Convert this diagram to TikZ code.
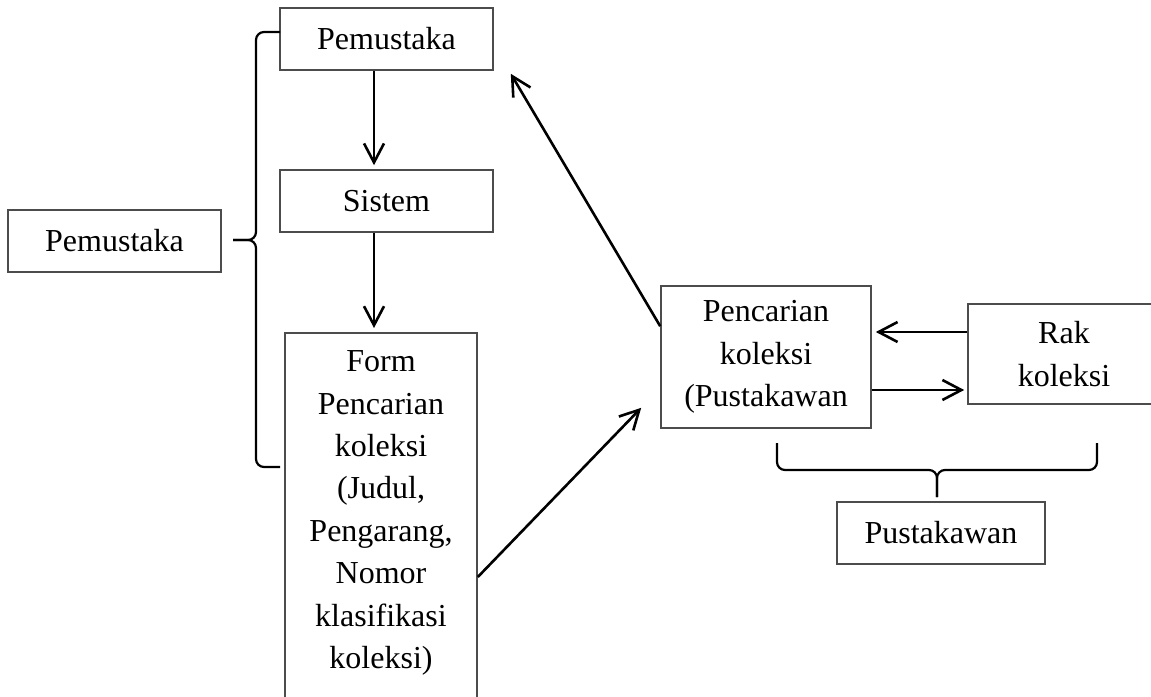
\documentclass[tikz,border=0pt]{standalone}
\usepackage{fontspec}
\setmainfont{Liberation Serif}
\usetikzlibrary{arrows.meta}
\begin{document}
\begin{tikzpicture}[x=0.5pt, y=-0.5pt, font=\fontsize{16}{21.2}\selectfont,
    box/.style={draw=black!70, line width=0.8pt, align=center, inner sep=0pt},
    conn/.style={-{Straight Barb[length=9.5pt, width=10pt]}, line width=1.3pt},
    bracket/.style={line width=1.1pt, rounded corners=4pt}]
  \useasboundingbox (0,0) rectangle (1151,696);
  \clip (0,0) rectangle (1151,696);
  % boxes
  \node[box, minimum width=106.5pt, minimum height=31pt] (pemTop) at (386.5,39) {Pemustaka};
  \node[box, minimum width=106.5pt, minimum height=31pt] (sistem) at (386.5,201) {Sistem};
  \node[box, minimum width=106.5pt, minimum height=31pt] (pemLeft) at (114.5,241) {Pemustaka};
  \node[box, minimum width=96pt, inner ysep=9pt, anchor=north] (form) at (381,332)
    {Form\\Pencarian\\koleksi\\(Judul,\\Pengarang,\\Nomor\\klasifikasi\\koleksi)\rule[-40pt]{0pt}{0pt}};
  \node[box, minimum width=105pt, minimum height=71pt] (penc) at (766,357) {Pencarian\\koleksi\\(Pustakawan};
  \node[box, minimum width=96pt, minimum height=50pt] (rak) at (1064,354) {Rak\\koleksi};
  \node[box, minimum width=104pt, minimum height=31pt] (pustakawan) at (941,533) {Pustakawan};
  % arrows
  \draw[conn, shorten >=2pt] ([xshift=-6.25pt]pemTop.south) -- ([xshift=-6.25pt]sistem.north);
  \draw[conn, shorten >=2pt] ([xshift=-6.25pt]sistem.south) -- ([xshift=-3.5pt]form.north);
  \draw[conn] ([yshift=-122.5pt]form.north east) -- ([shift={(-9.5pt,10.5pt)}]penc.south west);
  \draw[conn] ([yshift=-20.5pt]penc.north west) -- ([shift={(8.5pt,-1.5pt)}]pemTop.south east);
  \draw[conn] ([yshift=11pt]rak.west) -- ([shift={(2pt,12.5pt)}]penc.east);
  \draw[conn] ([yshift=-16.5pt]penc.east) -- ([shift={(-1.5pt,-18pt)}]rak.west);
  % braces
  \draw[bracket] (280,32) -- (256,32) -- (256,240) -- (233,240);
  \draw[bracket] (233,240) -- (256,240) -- (256,467) -- (280,467);
  \draw[bracket] (777,443) -- (777,470) -- (937,470) -- (937,497);
  \draw[bracket] (937,497) -- (937,470) -- (1097,470) -- (1097,443);
\end{tikzpicture}
\end{document}
